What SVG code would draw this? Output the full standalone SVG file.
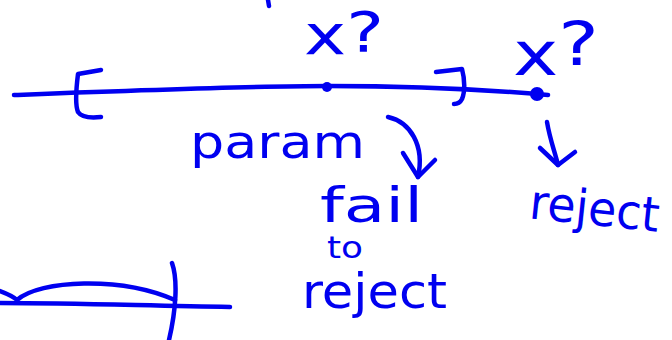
<svg xmlns="http://www.w3.org/2000/svg" width="672" height="340" viewBox="0 0 672 340">
<style>
.s{fill:none;stroke:#0000f0;stroke-width:4.5;stroke-linecap:round;stroke-linejoin:round}
.t{fill:#0000f0;font-family:"DejaVu Sans",sans-serif}
</style>
<rect width="672" height="340" fill="#fff"/>
<g id="numberline">
<path class="s" d="M14,95 C120,91 250,86 328,86 C420,86 480,89 548,95"/>
<path class="s" d="M101,70 L78,74 C76,90 75,105 78,112 C82,118 92,118 101,117"/>
<path class="s" d="M436,72 L462,69 C465,80 465,92 462,99 C460,103 457,104 454,104"/>
<path class="s" d="M268,0 L269,6"/>
<circle cx="327" cy="87" r="5" fill="#0000f0"/>
<circle cx="537" cy="94" r="7" fill="#0000f0"/>
</g>
<g id="labels">
<text class="t" x="304" y="54" font-size="56" textLength="80" lengthAdjust="spacingAndGlyphs">x<tspan dy="-3">?</tspan></text>
<text class="t" x="513" y="75" font-size="60" textLength="86" lengthAdjust="spacingAndGlyphs">x<tspan dy="-10">?</tspan></text>
<text class="t" x="190" y="158" font-size="46" textLength="175" lengthAdjust="spacingAndGlyphs">param</text>
<text class="t" x="320" y="222" font-size="48" textLength="103" lengthAdjust="spacingAndGlyphs">fail</text>
<text class="t" x="327" y="258" font-size="30" textLength="36" lengthAdjust="spacingAndGlyphs">to</text>
<text class="t" x="302" y="308" font-size="48" textLength="145" lengthAdjust="spacingAndGlyphs">reject</text>
<text class="t" x="528" y="225" font-size="48" textLength="130" lengthAdjust="spacingAndGlyphs" transform="rotate(6 593 225)">reject</text>
</g>
<g id="connectors">
<path class="s" d="M388,117 C410,122 425,145 418,177"/>
<path class="s" d="M403,153 L418,177 L435,160"/>
<path class="s" d="M547,122 C550,140 555,152 558,165"/>
<path class="s" d="M540,148 L558,165 L575,152"/>
</g>
<g id="sketch">
<path class="s" d="M0,303 C80,303 150,306 230,307"/>
<path class="s" d="M0,291 C8,294 14,297 17,300 C40,280 120,276 175,300"/>
<path class="s" d="M172,263 C178,280 176,310 169,340"/>
</g>
</svg>
